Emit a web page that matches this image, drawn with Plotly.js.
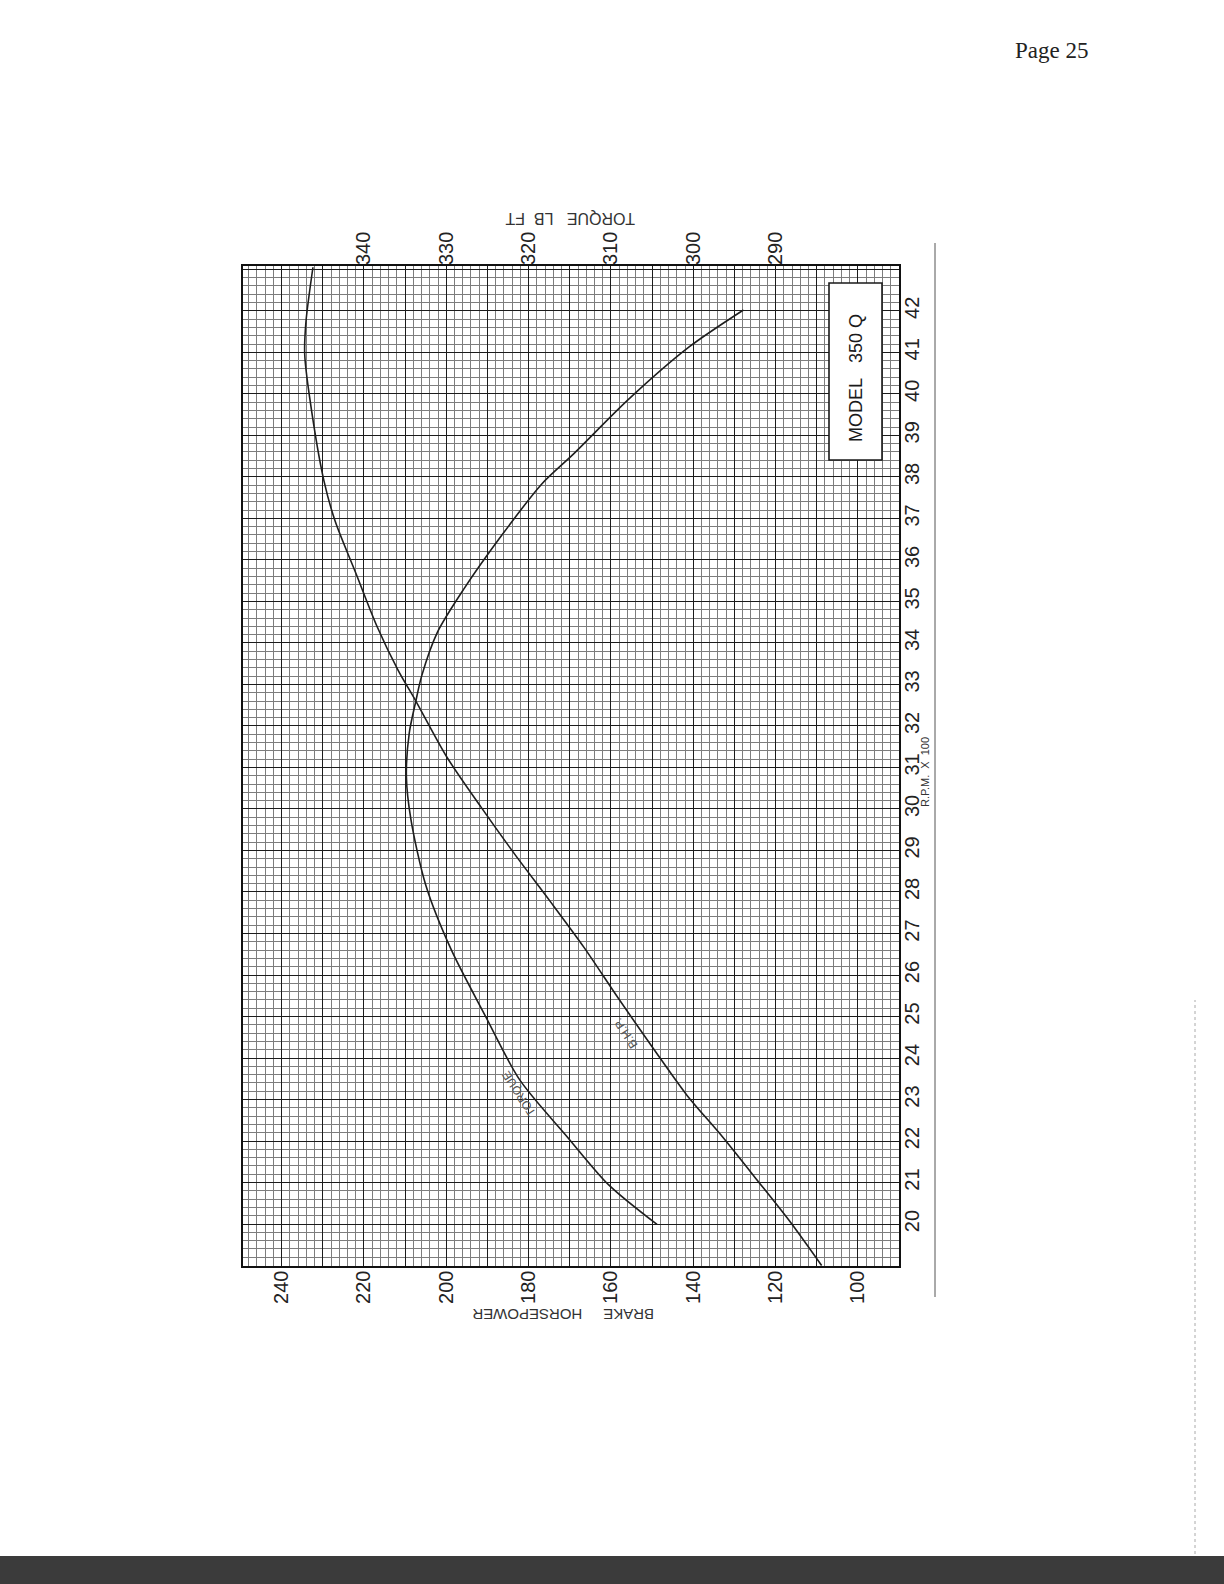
<!DOCTYPE html>
<html>
<head>
<meta charset="utf-8">
<script src="https://cdn.plot.ly/plotly-3.0.1.min.js"></script>
<style>
  html, body { margin: 0; padding: 0; background: #ffffff; }
  #chart { width: 1224px; height: 1584px; }
</style>
</head>
<body>
<div id="chart"></div>
<script>
// ---- Data (RPM x 100, brake horsepower, torque lb-ft) ----
const rpmBhp = [19.0, 20.06, 21.1, 22.15, 23.1, 24.23, 25.44, 26.66, 27.78, 28.9, 30.05,
                31.24, 32.6, 33.34, 34.39, 35.66, 36.93, 37.89, 39.91, 40.95, 41.74, 43.05];
const bhp = [108.8, 116.5, 124.8, 133.3, 141.5, 149.7, 158.2, 166.5, 174.8, 183.3, 191.6,
             199.8, 207.4, 211.7, 216.8, 221.9, 227.0, 229.7, 233.2, 234.4, 234.1, 232.4];

const rpmTorque = [19.99, 20.95, 22.1, 23.48, 25.03, 26.61, 28.17, 29.75, 30.79, 31.83,
                   32.6, 33.2, 34.25, 35.29, 36.61, 37.83, 38.56, 39.86, 41.13, 42.02];
const torque = [304.4, 310.3, 315.3, 321.1, 325.3, 329.4, 332.5, 334.3, 334.85, 334.5,
                333.7, 333.0, 331.1, 327.9, 323.2, 318.4, 314.5, 307.9, 300.5, 293.9];

// ---- Tick labels ----
const hpTicks = [240, 220, 200, 180, 160, 140, 120, 100];
const torqueTicks = [340, 330, 320, 310, 300, 290];
const rpmTicks = [20, 21, 22, 23, 24, 25, 26, 27, 28, 29, 30, 31, 32, 33, 34, 35, 36, 37, 38, 39, 40, 41, 42];

// ---- Axis ranges ----
const hpRange = [249.4, 90];
const rpmRange = [18.99, 43.08];
// graph paper relation between the two horizontal scales: torque = 230 + hp/2
const torqueRange = hpRange.map(v => 230 + v / 2);

// grid-line tick positions (every 10 hp, every 100 rpm), labels only where the paper is labelled
const hpGridVals = [], hpGridText = [];
for (let v = 90; v <= 250; v += 10) { hpGridVals.push(v); hpGridText.push(hpTicks.includes(v) ? String(v) : ''); }
const rpmGridVals = [], rpmGridText = [];
for (let v = 19; v <= 43; v += 1) { rpmGridVals.push(v); rpmGridText.push(rpmTicks.includes(v) ? String(v) : ''); }

const LINE = '#1e1e1e';
const FONT = 'Liberation Sans, Arial, sans-serif';

const traces = [
  { x: bhp, y: rpmBhp, xaxis: 'x', yaxis: 'y', mode: 'lines',
    line: { color: LINE, width: 1.6, shape: 'spline', smoothing: 0.8 }, hoverinfo: 'skip' },
  { x: torque, y: rpmTorque, xaxis: 'x2', yaxis: 'y', mode: 'lines',
    line: { color: LINE, width: 1.6, shape: 'spline', smoothing: 0.8 }, hoverinfo: 'skip' }
];

const L = 243, T = 266, W = 656, H = 1000;
const px = v => (v - L) / W;          // page pixel -> paper x
const py = v => (T + H - v) / H;      // page pixel -> paper y

function note(text, x, y, angle, font, refs) {
  return Object.assign({ text, x, y, xref: 'paper', yref: 'paper', showarrow: false,
    textangle: angle, xanchor: 'center', yanchor: 'middle', font }, refs || {});
}

const layout = {
  width: 1224, height: 1584,
  margin: { l: L, r: 1224 - L - W, t: T, b: 1584 - T - H, pad: 0, autoexpand: false },
  paper_bgcolor: '#ffffff', plot_bgcolor: '#ffffff',
  showlegend: false,
  font: { family: FONT, color: '#222' },
  xaxis: {
    range: hpRange, tickmode: 'array', tickvals: hpGridVals, ticktext: hpGridText,
    tickangle: -90, ticks: '', side: 'bottom', automargin: false, ticklabelstandoff: -5,
    tickfont: { family: FONT, size: 20, color: '#222' },
    showgrid: true, gridcolor: '#1c1c1c', gridwidth: 1,
    minor: { dtick: 2, tick0: 0, showgrid: true, gridcolor: '#7d7d7d', gridwidth: 1 },
    showline: true, mirror: true, linecolor: '#111', linewidth: 1.6,
    zeroline: false, fixedrange: true
  },
  xaxis2: {
    range: torqueRange, overlaying: 'x', side: 'top', anchor: 'y', automargin: false,
    tickmode: 'array', tickvals: torqueTicks, tickangle: -90, ticks: '',
    tickfont: { family: FONT, size: 20, color: '#222' },
    showgrid: false, showline: false, zeroline: false, fixedrange: true
  },
  yaxis: {
    range: rpmRange, side: 'right', tickmode: 'array', tickvals: rpmGridVals, ticktext: rpmGridText,
    tickangle: -90, ticks: '', automargin: false, ticklabelstandoff: -6,
    tickfont: { family: FONT, size: 20, color: '#222' },
    showgrid: true, gridcolor: '#1c1c1c', gridwidth: 1,
    minor: { dtick: 0.2, tick0: 0, showgrid: true, gridcolor: '#7d7d7d', gridwidth: 1 },
    showline: true, mirror: true, linecolor: '#111', linewidth: 1.6,
    zeroline: false, fixedrange: true
  },
  shapes: [
    // MODEL box
    { type: 'rect', xref: 'paper', yref: 'paper', x0: px(829), x1: px(882), y0: py(460), y1: py(283),
      fillcolor: '#ffffff', line: { color: '#1a1a1a', width: 1.6 }, layer: 'above' },
    // long rule to the right of the rpm labels
    { type: 'line', xref: 'paper', yref: 'paper', x0: px(935), x1: px(935), y0: py(1297), y1: py(243),
      line: { color: '#555', width: 1 } },
    // page edge on the right
    { type: 'line', xref: 'paper', yref: 'paper', x0: px(1195), x1: px(1195), y0: py(1584), y1: py(1000),
      line: { color: '#aaa', width: 1, dash: 'dot' } },
    // scanner band at the bottom of the page
    { type: 'rect', xref: 'paper', yref: 'paper', x0: px(0), x1: px(1224), y0: py(1584), y1: py(1556),
      fillcolor: '#3b3b3b', line: { width: 0 } }
  ],
  annotations: [
    note('Page 25', px(1051), py(51), 0, { family: 'Liberation Serif, DejaVu Serif, serif', size: 23, color: '#222' }),
    note('TORQUE&nbsp;&nbsp;&nbsp;LB&nbsp;&nbsp;FT', px(570), py(219), 180, { family: FONT, size: 16, color: '#333' }),
    note('BRAKE&nbsp;&nbsp;&nbsp;&nbsp;&nbsp;HORSEPOWER', px(563), py(1315), 180, { family: FONT, size: 15, color: '#333' }),
    note('R.P.M.&nbsp;&nbsp;X&nbsp;&nbsp;100', px(925), py(772), -90, { family: FONT, size: 11, color: '#333' }),
    note('MODEL&nbsp;&nbsp;&nbsp;350 Q', px(856), py(378), -90, { family: FONT, size: 18, color: '#1a1a1a' }),
    note('TORQUE', 182.4, 23.14, -123, { family: FONT, size: 12, color: '#555' }, { xref: 'x', yref: 'y' }),
    note('B.H.P.', 156.4, 24.6, -123, { family: FONT, size: 12, color: '#555' }, { xref: 'x', yref: 'y' })
  ]
};

Plotly.newPlot('chart', traces, layout, { displayModeBar: false, staticPlot: true });
</script>
</body>
</html>
